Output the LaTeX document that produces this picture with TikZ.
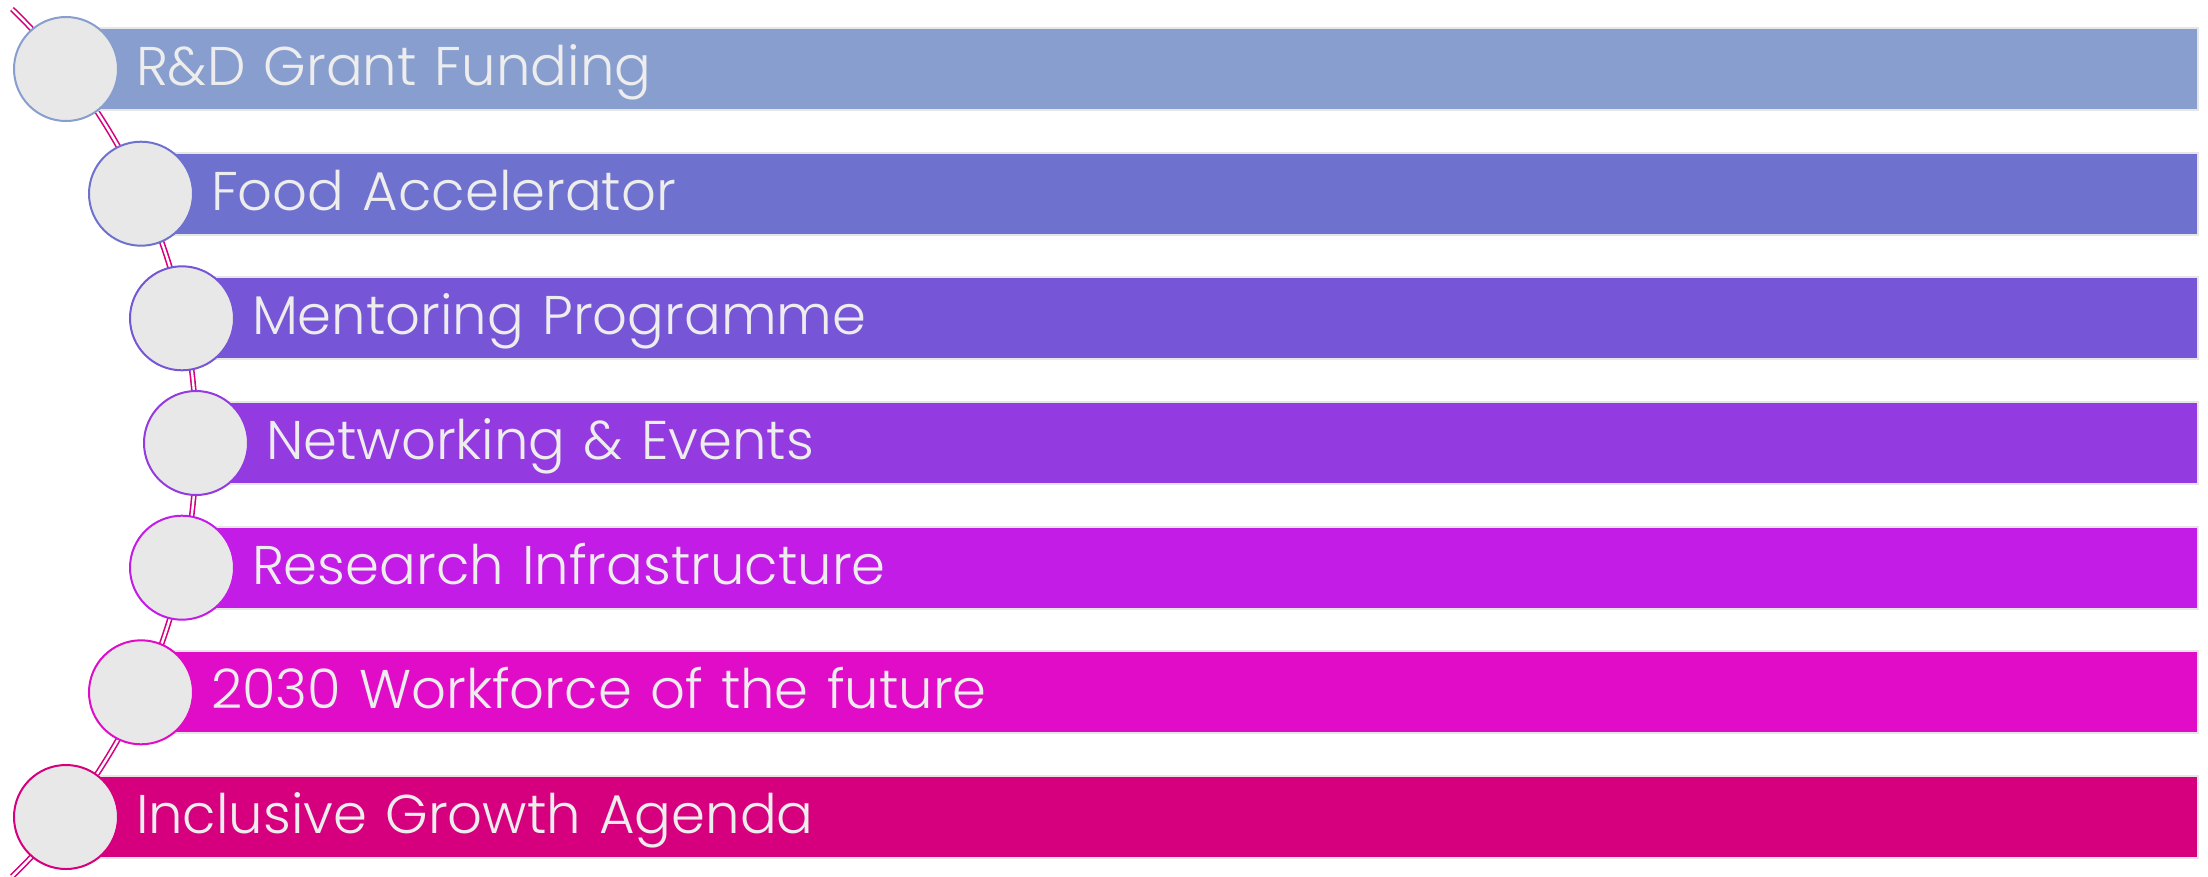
\documentclass[tikz,border=0pt]{standalone}
\usepackage{fontspec}
\newfontfamily\barfont{Poppins Light}
\usepackage{tikz}

\definecolor{grantcol}{HTML}{889ECE}
\definecolor{accelcol}{HTML}{6E71CE}
\definecolor{mentorcol}{HTML}{7655D6}
\definecolor{networkcol}{HTML}{933AE0}
\definecolor{researchcol}{HTML}{C21CE6}
\definecolor{workforcecol}{HTML}{E00CC8}
\definecolor{inclusivecol}{HTML}{D6007E}
\definecolor{knobfill}{HTML}{E8E8E8}
\definecolor{barline}{HTML}{E6E6E6}
\definecolor{bartext}{HTML}{EDEDED}

\begin{document}
\begin{tikzpicture}
        [
            x = 1pt, y = -1pt,
            spine/.style = {draw=inclusivecol, line width=1.6pt, double=white, double distance=2.4pt},
            bar/.style = {fill=#1, draw=barline, line width=2pt, anchor=west,
                    minimum height=82pt, inner xsep=69pt, inner ysep=0pt, align=left,
                    text=bartext, font=\barfont\fontsize{54.5pt}{60pt}\selectfont,
                    text height=38pt, text depth=5pt},
            knob/.style = {circle, draw=#1, fill=knobfill, line width=2pt,
                    minimum size=104pt, inner sep=0pt},
        ]

        \useasboundingbox (0,0) rectangle (2208,876);

        % the curved double line behind the stops
        \coordinate (arctop) at (12,9);
        \draw[spine] (arctop) arc[start angle=-46, end angle=46, radius=603];

        % bars
        \node[bar=grantcol, text width=1993pt] (b1) at (66,69) {R\&D Grant Funding};
        \node[bar=accelcol, text width=1918pt] (b2) at (141,193.7) {Food Accelerator};
        \node[bar=mentorcol, text width=1877pt] (b3) at (182,318.3) {Mentoring Programme};
        \node[bar=networkcol, text width=1863pt] (b4) at (196,443) {Networking \& Events};
        \node[bar=researchcol, text width=1877pt] (b5) at (182,567.7) {Research Infrastructure};
        \node[bar=workforcecol, text width=1918pt] (b6) at (141,692.3) {2030 Workforce of the future};
        \node[bar=inclusivecol, text width=1993pt] (b7) at (66,817) {Inclusive Growth Agenda};

        % stops
        \node[knob=grantcol] (c1) at (b1.west) {};
        \node[knob=accelcol] (c2) at (b2.west) {};
        \node[knob=mentorcol] (c3) at (b3.west) {};
        \node[knob=networkcol] (c4) at (b4.west) {};
        \node[knob=researchcol] (c5) at (b5.west) {};
        \node[knob=workforcecol] (c6) at (b6.west) {};
        \node[knob=inclusivecol] (c7) at (b7.west) {};

    \end{tikzpicture}
\end{document}
